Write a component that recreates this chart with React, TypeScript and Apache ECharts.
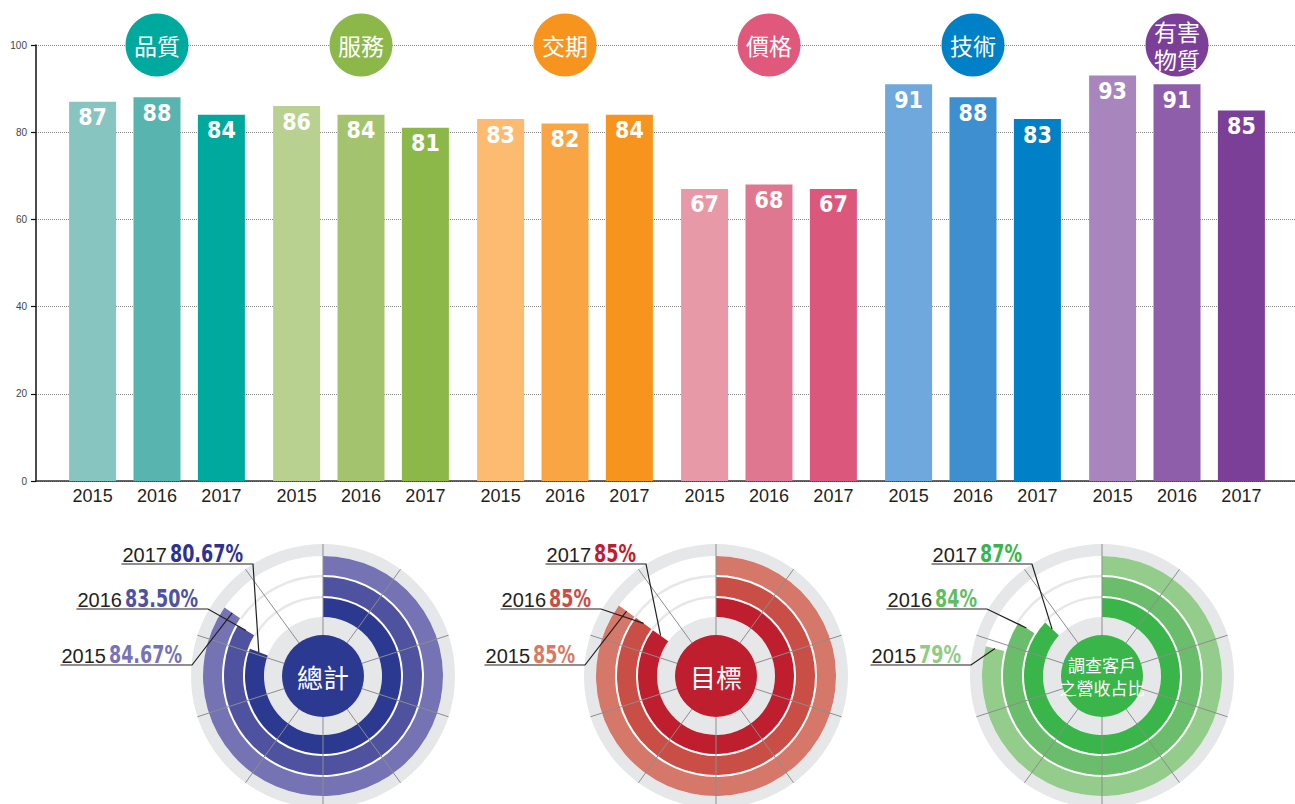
import React, { useEffect, useRef } from 'react';
import * as echarts from 'echarts';

// ---------- data ----------
const groupNames = ['品質', '服務', '交期', '價格', '技術', '有害\n物質'];
const yearLabels = ['2015', '2016', '2017'];
const scores2015 = [87, 86, 83, 67, 91, 93];
const scores2016 = [88, 84, 82, 68, 88, 91];
const scores2017 = [84, 81, 84, 67, 83, 85];
const yMin = 0;
const yMax = 100;
const yStep = 20;

const ringTitles = ['總計', '目標', '調查客戶\n之營收占比'];
const ringYears = ['2017', '2016', '2015']; // inner -> outer
const ring2017 = [80.67, 85, 87];
const ring2016 = [83.5, 85, 84];
const ring2015 = [84.67, 85, 79];
const ringText2017 = ['80.67%', '85%', '87%'];
const ringText2016 = ['83.50%', '85%', '84%'];
const ringText2015 = ['84.67%', '85%', '79%'];

// ---------- styles ----------
const groupColors = ['#00a99d', '#8cb84a', '#f7941d', '#e0587c', '#0080c6', '#7b3f98'];
const barColors2015 = ['#87c5c1', '#b9d190', '#fdbb72', '#e799a8', '#6fa8dc', '#a886bd'];
const barColors2016 = ['#57b4ae', '#a4c36f', '#f9a544', '#e07790', '#3d8fd0', '#8e5eaa'];
const barColors2017 = ['#00a99d', '#8cb84a', '#f7941d', '#db577c', '#0080c6', '#7b3f98'];

const ringColors = [
  ['#2b3990', '#4e529f', '#7673b4'],
  ['#be1e2d', '#c94f46', '#d5786a'],
  ['#39b54a', '#6abd6b', '#93cc8b'],
];
const pctColors = [
  ['#2e3192', '#4f52a0', '#7773b6'],
  ['#be1e2d', '#c94c46', '#d67a66'],
  ['#39b54a', '#62bd62', '#91cb86'],
];
const diskColors = ['#2b3990', '#be1e2d', '#39b54a'];
const GRAY = '#e6e7e8';

const NARROW = "'Liberation Sans Narrow', 'Arial Narrow', 'DejaVu Sans Condensed', sans-serif";
const SANS = "'Liberation Sans', Arial, Helvetica, sans-serif";
const CJK = "'Noto Sans CJK TC', 'Noto Sans CJK SC', sans-serif";

let measureCtx: CanvasRenderingContext2D | null = null;
function measure(text: string, font: string): number {
  if (!measureCtx) measureCtx = document.createElement('canvas').getContext('2d');
  if (!measureCtx) return text.length * 10;
  measureCtx.font = font;
  return measureCtx.measureText(text).width;
}

function buildOption(): any {
  const series: any[] = [];
  const yearVals = [scores2015, scores2016, scores2017];
  const yearCols = [barColors2015, barColors2016, barColors2017];

  yearLabels.forEach((yr, i) => {
    series.push({
      type: 'bar',
      xAxisIndex: 0,
      yAxisIndex: 0,
      stack: 'y' + yr,
      barWidth: 47,
      barGap: '37%',
      silent: true,
      data: groupNames.map(() => 0),
      itemStyle: { color: 'rgba(0,0,0,0)' },
      label: {
        show: true,
        position: 'bottom',
        distance: 6,
        formatter: yr,
        fontSize: 18,
        fontFamily: SANS,
        color: '#231f20',
      },
    });
    series.push({
      type: 'bar',
      xAxisIndex: 0,
      yAxisIndex: 0,
      stack: 'y' + yr,
      barWidth: 47,
      barGap: '37%',
      data: yearVals[i].map((v, j) => ({ value: v, itemStyle: { color: yearCols[i][j] } })),
      label: {
        show: true,
        position: 'insideTop',
        distance: 4,
        color: '#fff',
        fontSize: 23,
        fontWeight: 'bold',
        fontFamily: NARROW,
      },
    });
  });

  series.push({
    type: 'scatter',
    xAxisIndex: 0,
    yAxisIndex: 0,
    symbol: 'circle',
    symbolSize: 63,
    clip: false,
    z: 5,
    data: groupNames.map((g, j) => ({
      value: [j, yMax],
      name: g,
      itemStyle: { color: groupColors[j], opacity: 1 },
    })),
    label: {
      show: true,
      position: 'inside',
      formatter: '{b}',
      color: '#fff',
      fontSize: 23,
      lineHeight: 28,
      fontFamily: CJK,
    },
  });

  series.push({ type: 'line', xAxisIndex: 1, yAxisIndex: 1, data: [] });

  // ---------- radial charts ----------
  const ringCenters = [
    [323, 676],
    [716, 676],
    [1102, 676],
  ];
  const polar: any[] = [];
  const angleAxis: any[] = [];
  const radiusAxis: any[] = [];
  const graphics: any[] = [];
  const ringVals = [ring2017, ring2016, ring2015];
  const ringTexts = [ringText2017, ringText2016, ringText2015];
  const rowY = [-112, -67, -11];
  const rowEnd = [-70, -115, -131];
  const innerR = 58;
  const outerR = 121;
  const band = (outerR - innerR) / ringYears.length;
  const YEAR_SIZE = 20;
  const PCT_SIZE = 25;
  const PCT_SCALE = 0.78;
  const YEAR_FONT = `${YEAR_SIZE}px ${SANS}`;
  const PCT_FONT = `bold ${PCT_SIZE}px ${NARROW}`;

  ringCenters.forEach((c, k) => {
    polar.push({ center: c, radius: [innerR, outerR] });
    polar.push({ center: c, radius: [41, 132] });
    angleAxis.push({
      polarIndex: 2 * k,
      type: 'value',
      min: 0,
      max: 100,
      startAngle: 90,
      clockwise: true,
      show: false,
    });
    radiusAxis.push({ polarIndex: 2 * k, type: 'category', data: ringYears, show: false });
    angleAxis.push({
      polarIndex: 2 * k + 1,
      type: 'value',
      min: 0,
      max: 100,
      interval: 10,
      startAngle: 90,
      clockwise: true,
      z: 5,
      axisLine: { show: false },
      axisTick: { show: false },
      axisLabel: { show: false },
      splitLine: { show: true, lineStyle: { color: '#8d8d8d', width: 1 } },
    });
    radiusAxis.push({ polarIndex: 2 * k + 1, type: 'value', min: 0, max: 1, show: false });

    const deco = (radius: number[], data: any[], z: number) => ({
      type: 'pie',
      center: c,
      radius,
      startAngle: 90,
      clockwise: true,
      silent: true,
      z,
      label: { show: false },
      labelLine: { show: false },
      emphasis: { disabled: true },
      itemStyle: { borderWidth: 0 },
      data,
    });
    series.push(deco([41, innerR + 1], [{ value: 1, itemStyle: { color: GRAY } }], 1));
    series.push(deco([outerR - 1, 132], [{ value: 1, itemStyle: { color: GRAY } }], 1));
    const v0 = ringVals[0][k];
    const v1 = ringVals[1][k];
    const v2 = ringVals[2][k];
    const gapStarts = [Math.max(v0, v1), Math.max(v1, v2)];
    gapStarts.forEach((gs, g) => {
      const r = innerR + band * (g + 1);
      series.push(
        deco([r - 1.2, r + 1.2], [
          { value: gs, itemStyle: { color: 'rgba(0,0,0,0)' } },
          { value: 100 - gs, itemStyle: { color: GRAY } },
        ], 1)
      );
    });

    series.push({
      type: 'bar',
      coordinateSystem: 'polar',
      polarIndex: 2 * k,
      barWidth: 19,
      z: 2,
      silent: true,
      data: ringVals.map((arr, i) => ({ value: arr[k], itemStyle: { color: ringColors[k][i] } })),
    });
    series.push({ type: 'scatter', coordinateSystem: 'polar', polarIndex: 2 * k + 1, data: [] });

    series.push({
      type: 'pie',
      center: c,
      radius: [0, 41],
      silent: true,
      z: 6,
      labelLine: { show: false },
      emphasis: { disabled: true },
      data: [{ value: 1, name: ringTitles[k], itemStyle: { color: diskColors[k] } }],
      label: {
        show: true,
        position: 'center',
        formatter: '{b}',
        color: '#fff',
        fontSize: k === 2 ? 17 : 26,
        lineHeight: k === 2 ? 23 : 30,
        fontFamily: CJK,
      },
    });

    // annotations with leader lines
    const [cx, cy] = c;
    ringYears.forEach((yr, i) => {
      const uy = cy + rowY[i];
      const ex = cx + rowEnd[i];
      const txt = ringTexts[i][k];
      const yw = measure(yr, YEAR_FONT);
      const pw = measure(txt, PCT_FONT) * PCT_SCALE;
      const right = ex - 10;
      const pLeft = right - pw;
      const yLeft = pLeft - 3 - yw;
      const ang = (ringVals[i][k] / 100) * 2 * Math.PI;
      const rm = innerR + band * (i + 0.5);
      const px = cx + rm * Math.sin(ang);
      const py = cy - rm * Math.cos(ang);
      graphics.push({
        type: 'polyline',
        z: 100,
        silent: true,
        shape: { points: [[yLeft - 1, uy], [ex, uy], [px, py]] },
        style: { stroke: '#231f20', lineWidth: 1.2, fill: null },
      });
      graphics.push({
        type: 'text',
        z: 100,
        x: yLeft,
        y: uy - 2 - 0.35 * YEAR_SIZE,
        style: { text: yr, font: YEAR_FONT, fill: '#231f20', align: 'left', verticalAlign: 'middle', textAlign: 'left', textVerticalAlign: 'middle' },
      });
      graphics.push({
        type: 'text',
        z: 100,
        x: pLeft,
        y: uy - 2 - 0.35 * PCT_SIZE,
        scaleX: PCT_SCALE,
        style: { text: txt, font: PCT_FONT, fill: pctColors[k][i], align: 'left', verticalAlign: 'middle', textAlign: 'left', textVerticalAlign: 'middle' },
      });
    });
  });

  return {
    animation: false,
    backgroundColor: '#ffffff',
    grid: [
      { left: 55, right: 16, top: 45, bottom: 323 },
      { left: 36, right: 0, top: 45, bottom: 323 },
    ],
    xAxis: [
      { gridIndex: 0, type: 'category', data: groupNames, show: false },
      {
        gridIndex: 1,
        type: 'value',
        min: 0,
        max: 1,
        axisLine: { show: true, onZero: false, lineStyle: { color: '#333', width: 1.5 } },
        axisTick: { show: false },
        axisLabel: { show: false },
        splitLine: { show: false },
      },
    ],
    yAxis: [
      { gridIndex: 0, type: 'value', min: yMin, max: yMax, show: false },
      {
        gridIndex: 1,
        type: 'value',
        min: yMin,
        max: yMax,
        interval: yStep,
        axisLine: { show: true, lineStyle: { color: '#111', width: 1.5 } },
        axisTick: { show: true, length: 5, lineStyle: { color: '#111', width: 1.2 } },
        axisLabel: { fontSize: 10, color: '#444', margin: 9, fontFamily: SANS },
        splitLine: { show: true, lineStyle: { type: 'dotted', color: '#8a8a8a', width: 1 } },
      },
    ],
    polar,
    angleAxis,
    radiusAxis,
    graphic: { elements: graphics },
    series,
  };
}

export default function App() {
  const ref = useRef<HTMLDivElement>(null);
  useEffect(() => {
    document.body.style.margin = '0';
    if (!ref.current) return;
    const chart = echarts.init(ref.current, undefined, { renderer: 'svg' });
    chart.setOption(buildOption());
    return () => {
      chart.dispose();
    };
  }, []);
  return <div ref={ref} style={{ width: 1295, height: 804 }} />;
}
